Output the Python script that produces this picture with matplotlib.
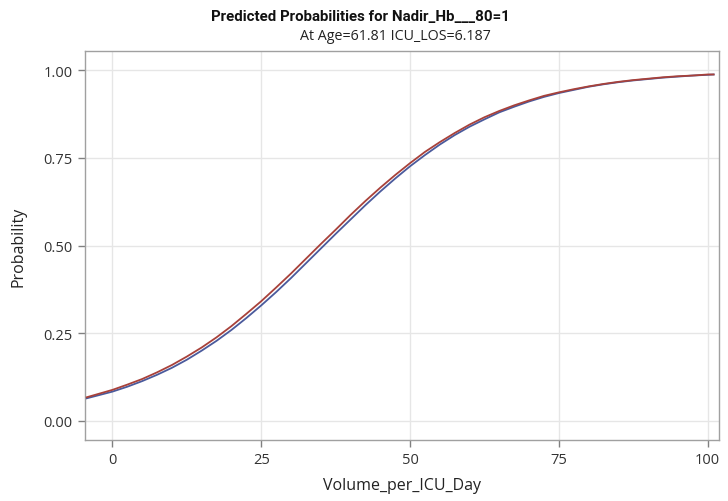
import matplotlib
matplotlib.use("Agg")
import matplotlib.pyplot as plt

# values
volume = [-4.3, 0, 2.5, 5, 7.5, 10, 12.5, 15, 17.5, 20, 22.5, 25, 27.5, 30, 32.5,
          35, 37.5, 40, 42.5, 45, 47.5, 50, 52.5, 55, 57.5, 60, 62.5, 65, 67.5,
          70, 72.5, 75, 77.5, 80, 82.5, 85, 87.5, 90, 92.5, 95, 97.5, 100, 101]
prob_blue = [0.064, 0.083, 0.097, 0.113, 0.131, 0.151, 0.174, 0.200, 0.228, 0.259, 0.293,
             0.329, 0.367, 0.407, 0.449, 0.491, 0.533, 0.574, 0.615, 0.654, 0.691, 0.726,
             0.758, 0.788, 0.815, 0.839, 0.860, 0.880, 0.896, 0.911, 0.924, 0.935, 0.944,
             0.953, 0.960, 0.966, 0.971, 0.975, 0.979, 0.982, 0.985, 0.987, 0.988]
prob_red = [0.067, 0.088, 0.103, 0.119, 0.138, 0.159, 0.183, 0.209, 0.238, 0.270, 0.305,
            0.341, 0.380, 0.420, 0.462, 0.504, 0.545, 0.587, 0.627, 0.665, 0.701, 0.735,
            0.767, 0.795, 0.821, 0.845, 0.866, 0.884, 0.900, 0.914, 0.927, 0.937, 0.946,
            0.954, 0.961, 0.967, 0.972, 0.976, 0.980, 0.983, 0.985, 0.988, 0.988]
x_ticks = [0, 25, 50, 75, 100]
y_ticks = [0.0, 0.25, 0.5, 0.75, 1.0]

fig = plt.figure(figsize=(7.28, 5.02), dpi=100)
ax = fig.add_axes([85 / 728, 61 / 502, 634 / 728, 389 / 502])

ax.plot(volume, prob_blue, color="#4a5a9c", linewidth=1.3, zorder=3)
ax.plot(volume, prob_red, color="#a8413a", linewidth=1.3, zorder=4)

ax.set_xlim(-4.6, 101.9)
ax.set_ylim(-0.055, 1.055)
ax.set_xticks(x_ticks)
ax.set_yticks(y_ticks)
ax.set_yticklabels(["%.2f" % v for v in y_ticks])

ax.grid(True, color="#e6e6e6", linewidth=1.0)
ax.set_axisbelow(True)
for side in ax.spines.values():
    side.set_color("#a0a0a0")
    side.set_linewidth(1.0)
ax.tick_params(colors="#808080", length=5, width=1.0, labelcolor="#333333",
               labelsize=10.5, pad=4)
for lab in ax.get_xticklabels() + ax.get_yticklabels():
    lab.set_family("Open Sans")

ax.set_xlabel("Volume_per_ICU_Day", fontsize=11.5, family="Open Sans", color="#222222", labelpad=7)
ax.set_ylabel("Probability", fontsize=11.5, family="Open Sans", color="#222222", labelpad=12)

fig.text(360 / 728, 1 - 17 / 502, "Predicted Probabilities for Nadir_Hb___80=1",
         ha="center", va="center", fontsize=10.8, fontweight="bold", family="Roboto",
         color="#111111")
fig.text(395 / 728, 1 - 37 / 502, "At Age=61.81 ICU_LOS=6.187",
         ha="center", va="center", fontsize=10.3, family="Open Sans", color="#222222")

fig.savefig("out.png", dpi=100)
